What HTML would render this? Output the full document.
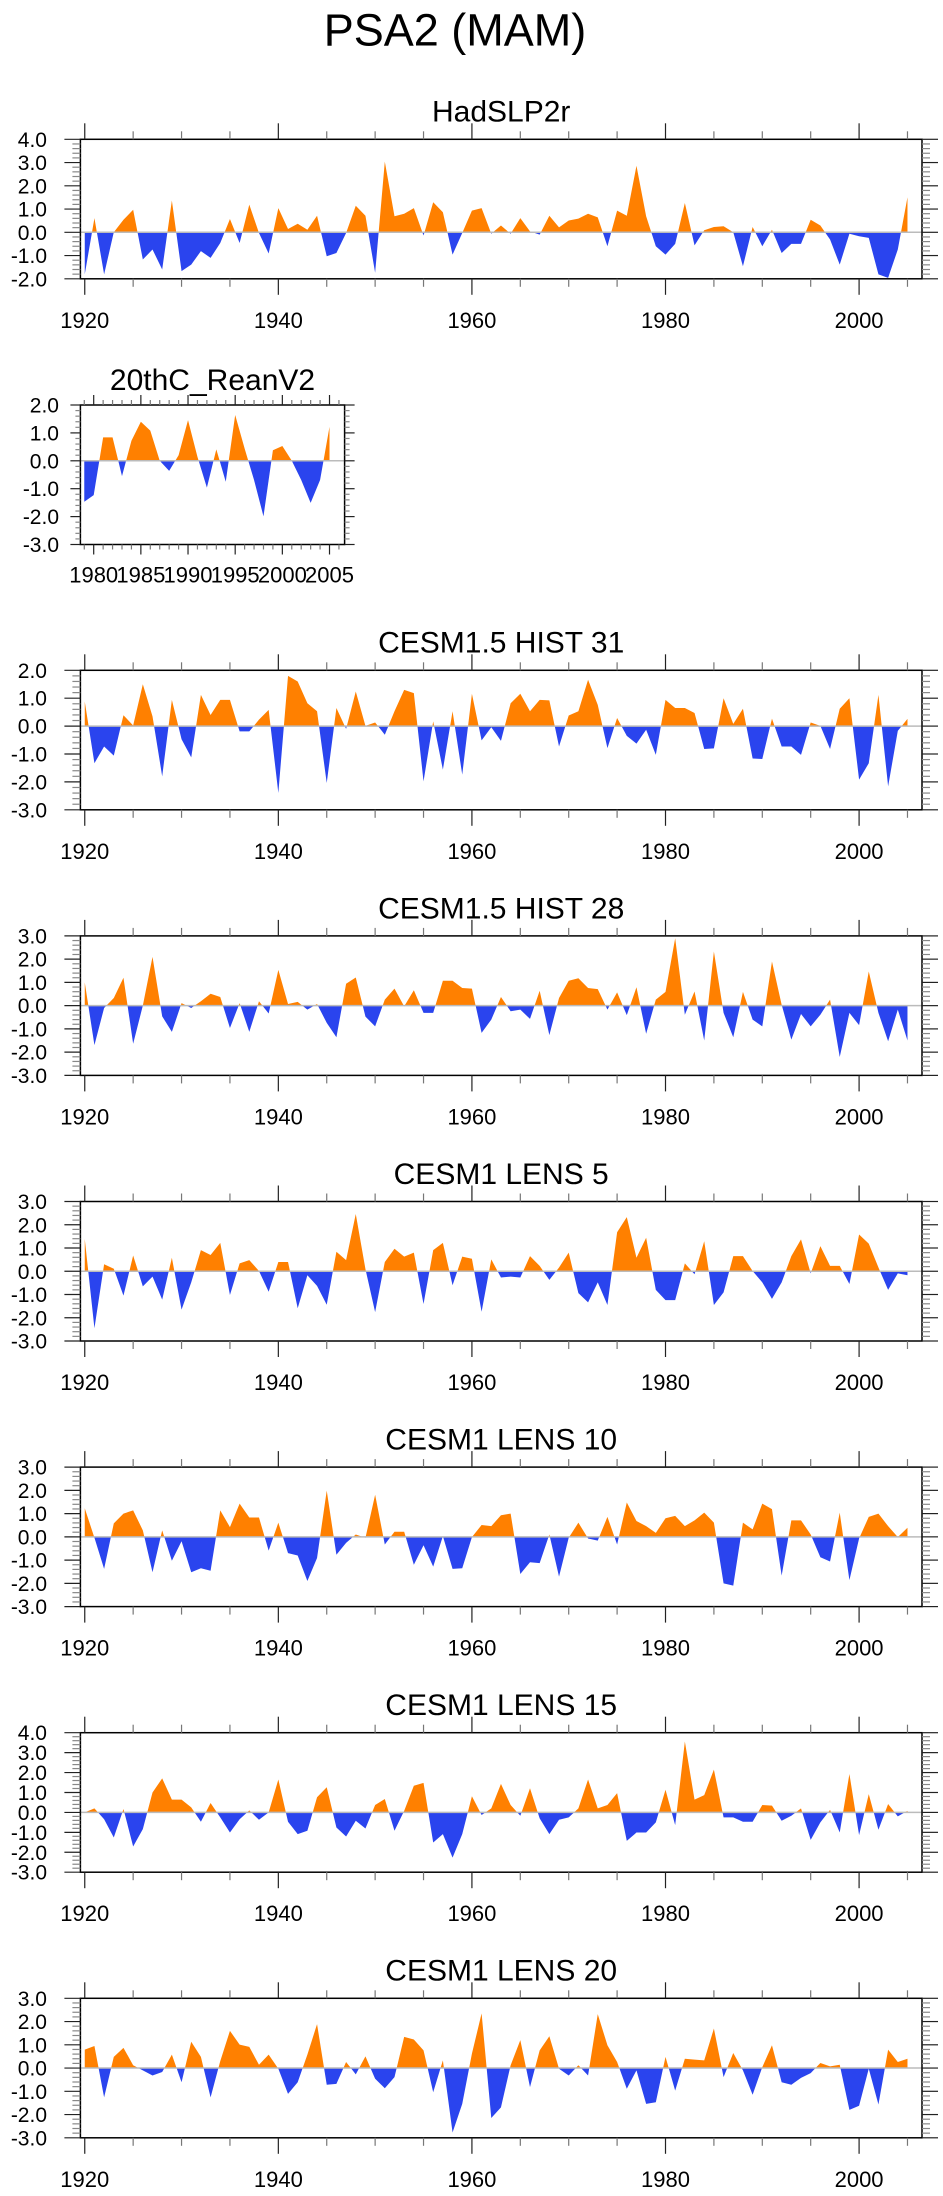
<!DOCTYPE html>
<html><head><meta charset="utf-8"><title>PSA2 (MAM)</title>
<style>
html,body{margin:0;padding:0;background:#fff;}
svg{display:block;font-family:"Liberation Sans",Arial,sans-serif;}
</style></head>
<body>
<svg id="fig" width="943" height="2196" viewBox="0 0 943 2196" xmlns="http://www.w3.org/2000/svg">
<text x="455" y="45.7" font-size="45" text-anchor="middle" fill="#000">PSA2 (MAM)</text>
</svg>
<script>
const titles = ["HadSLP2r","20thC_ReanV2","CESM1.5 HIST 31","CESM1.5 HIST 28","CESM1 LENS 5","CESM1 LENS 10","CESM1 LENS 15","CESM1 LENS 20"];
const startYears = [1920,1979,1920,1920,1920,1920,1920,1920];
const yMins = [-2,-3,-3,-3,-3,-3,-3,-3];
const yMaxs = [4,2,2,3,3,3,4,3];
const hadslp2r = [-1.81,0.61,-1.81,0,0.54,0.97,-1.17,-0.74,-1.6,1.37,-1.67,-1.39,-0.81,-1.1,-0.46,0.57,-0.46,1.19,-0.03,-0.91,1.04,0.14,0.37,0.11,0.71,-1.03,-0.89,-0.03,1.14,0.71,-1.74,3.04,0.69,0.8,1.04,-0.14,1.29,0.86,-0.96,-0.03,0.93,1.04,-0.06,0.29,-0.06,0.61,0.04,-0.1,0.71,0.21,0.51,0.59,0.8,0.64,-0.6,0.93,0.71,2.86,0.69,-0.6,-0.96,-0.5,1.26,-0.56,0.09,0.23,0.26,0,-1.46,0.23,-0.6,0.11,-0.89,-0.5,-0.5,0.54,0.29,-0.31,-1.39,-0.06,-0.17,-0.24,-1.81,-1.96,-0.74,1.51];
const reanV2 = [-1.47,-1.23,0.84,0.84,-0.55,0.72,1.4,1.08,0,-0.36,0.2,1.46,0.14,-0.96,0.41,-0.75,1.64,0.44,-0.69,-1.99,0.38,0.53,0,-0.69,-1.51,-0.69,1.22];
const hist31 = [0.88,-1.33,-0.73,-1.06,0.39,0.02,1.5,0.35,-1.8,0.94,-0.47,-1.12,1.12,0.4,0.94,0.94,-0.19,-0.19,0.23,0.58,-2.4,1.8,1.6,0.82,0.53,-2.04,0.65,-0.1,1.24,0.01,0.13,-0.31,0.53,1.3,1.18,-1.98,0.17,-1.56,0.53,-1.74,1.16,-0.51,-0.04,-0.53,0.82,1.16,0.53,0.94,0.92,-0.73,0.38,0.53,1.66,0.76,-0.79,0.29,-0.35,-0.63,-0.13,-1.03,0.94,0.65,0.65,0.47,-0.82,-0.8,1.0,0.08,0.62,-1.16,-1.18,0.27,-0.73,-0.73,-1.03,0.13,0.01,-0.82,0.62,1.0,-1.92,-1.33,1.12,-2.16,-0.17,0.26];
const hist28 = [1.0,-1.7,-0.1,0.33,1.2,-1.64,0,2.1,-0.46,-1.13,0.11,-0.1,0.19,0.51,0.37,-0.96,0.11,-1.13,0.19,-0.34,1.54,0.07,0.16,-0.17,0.07,-0.74,-1.36,0.94,1.21,-0.47,-0.89,0.26,0.73,-0.03,0.66,-0.31,-0.31,1.07,1.07,0.76,0.73,-1.17,-0.6,0.37,-0.24,-0.17,-0.57,0.64,-1.27,0.33,1.07,1.18,0.76,0.71,-0.17,0.57,-0.41,0.79,-1.21,0.26,0.59,2.9,-0.39,0.61,-1.5,2.33,-0.31,-1.36,0.59,-0.6,-0.89,1.9,0.04,-1.46,-0.36,-0.89,-0.39,0.26,-2.21,-0.31,-0.84,1.47,-0.31,-1.53,-0.17,-1.5];
const lens5 = [1.39,-2.45,0.3,0.11,-1.05,0.68,-0.65,-0.23,-1.22,0.58,-1.65,-0.48,0.91,0.7,1.22,-1.02,0.34,0.48,0.01,-0.88,0.4,0.4,-1.59,-0.17,-0.63,-1.44,0.84,0.48,2.46,0.09,-1.76,0.4,0.97,0.63,0.8,-1.41,0.91,1.22,-0.6,0.63,0.54,-1.74,0.51,-0.27,-0.23,-0.27,0.65,0.23,-0.37,0.16,0.8,-0.94,-1.34,-0.48,-1.45,1.68,2.33,0.58,1.44,-0.8,-1.24,-1.24,0.34,-0.13,1.29,-1.45,-0.91,0.65,0.65,0.01,-0.48,-1.19,-0.48,0.65,1.37,-0.09,1.08,0.23,0.23,-0.55,1.58,1.19,0.16,-0.8,-0.09,-0.17];
const lens10 = [1.23,-0.04,-1.38,0.58,1.0,1.14,0.28,-1.52,0.28,-1.03,-0.19,-1.52,-1.35,-1.46,1.14,0.42,1.43,0.83,0.83,-0.59,0.61,-0.7,-0.8,-1.9,-0.91,1.99,-0.77,-0.26,0.1,-0.04,1.81,-0.33,0.22,0.22,-1.2,-0.36,-1.28,0.03,-1.38,-1.35,-0.01,0.51,0.46,0.93,1.0,-1.6,-1.09,-1.13,0.1,-1.71,-0.04,0.61,-0.07,-0.16,0.86,-0.33,1.48,0.68,0.46,0.17,0.8,0.9,0.46,0.71,1.04,0.61,-2.0,-2.1,0.61,0.32,1.43,1.19,-1.67,0.71,0.71,0.1,-0.88,-1.06,1.04,-1.86,-0.07,0.86,1.0,0.46,-0.01,0.39];
const lens15 = [0,0.2,-0.34,-1.26,0.17,-1.71,-0.84,1.0,1.71,0.64,0.64,0.25,-0.47,0.47,-0.25,-1.01,-0.34,0.1,-0.37,0,1.65,-0.47,-1.09,-0.92,0.76,1.26,-0.76,-1.21,-0.42,-0.81,0.37,0.67,-0.92,0.08,1.34,1.48,-1.51,-1.09,-2.27,-1.09,0.81,-0.13,0.2,1.43,0.37,-0.17,1.21,-0.3,-1.09,-0.37,-0.25,0.2,1.65,0.2,0.37,0.97,-1.43,-1.01,-1.01,-0.5,1.14,-0.64,3.56,0.64,0.87,2.15,-0.25,-0.25,-0.47,-0.47,0.37,0.34,-0.42,-0.17,0.2,-1.38,-0.5,0.13,-1.01,1.93,-1.14,0.92,-0.87,0.42,-0.2,0.08];
const lens20 = [0.79,0.95,-1.26,0.48,0.87,0.12,-0.1,-0.32,-0.17,0.58,-0.61,1.13,0.48,-1.26,0.3,1.6,1.01,0.91,0.14,0.58,-0.03,-1.11,-0.61,0.58,1.89,-0.72,-0.68,0.26,-0.27,0.5,-0.46,-0.87,-0.39,1.34,1.23,0.76,-1.04,0.33,-2.77,-1.54,0.62,2.35,-2.15,-1.69,0.12,1.2,-0.82,0.76,1.37,-0.03,-0.32,0.12,-0.32,2.32,0.98,0.26,-0.89,-0.1,-1.54,-1.47,0.48,-0.97,0.4,0.36,0.33,1.7,-0.39,0.65,-0.1,-1.15,0.04,0.98,-0.61,-0.72,-0.42,-0.22,0.22,0.07,0.14,-1.8,-1.62,-0.03,-1.57,0.79,0.26,0.4];
const seriesList = [hadslp2r,reanV2,hist31,hist28,lens5,lens10,lens15,lens20];
const mainXTickLabels = ["1920","1940","1960","1980","2000"];
const reanXTickLabels = ["1980","1985","1990","1995","2000","2005"];

const NS = "http://www.w3.org/2000/svg";
const svg = document.getElementById("fig");
function mk(tag, attrs, parent){ const e=document.createElementNS(NS,tag); for(const k in attrs) e.setAttribute(k,attrs[k]); (parent||svg).appendChild(e); return e; }
const tops = [139.3,405,670.3,935.9,1201.5,1467.1,1732.7,1998.3];
const PH = 139.5;

for(let p=0;p<8;p++){
  const small = (p===1);
  const L = 80.4, R = small ? 344.6 : 922;
  const T = tops[p], B = T+PH;
  const x0 = small ? 1978.59 : 1919.55, x1 = small ? 2006.6 : 2006.5;
  const ymin=yMins[p], ymax=yMaxs[p];
  const xs = v => L + (v-x0)/(x1-x0)*(R-L);
  const ys = v => B - (v-ymin)/(ymax-ymin)*PH;
  const g = mk("g",{});
  
  
  // title
  const t = mk("text",{x:(L+R)/2,y: small ? T-15 : T-17.6,"font-size":30,"text-anchor":"middle",fill:"#000"},g);
  
  
  t.textContent = titles[p];
  // clip paths
  const cid = "c"+p;
  const defs = mk("defs",{},g);
  const cpA = mk("clipPath",{id:cid+"a"},defs); mk("rect",{x:L,y:T,width:R-L,height:ys(0)-T},cpA);
  const cpB = mk("clipPath",{id:cid+"b"},defs); mk("rect",{x:L,y:ys(0),width:R-L,height:B-ys(0)},cpB);
  const data = seriesList[p], sy = startYears[p];
  let d = "M"+xs(sy).toFixed(2)+","+ys(0).toFixed(2);
  for(let i=0;i<data.length;i++) d += " L"+xs(sy+i).toFixed(2)+","+ys(data[i]).toFixed(2);
  d += " L"+xs(sy+data.length-1).toFixed(2)+","+ys(0).toFixed(2)+" Z";
  const pos = mk("path",{d:d,fill:"#ff8000","clip-path":"url(#"+cid+"a)"},g);
  
  
  const neg = mk("path",{d:d,fill:"#2a44ee","clip-path":"url(#"+cid+"b)"},g);
  
  
  const zl = mk("line",{x1:L,x2:R,y1:ys(0),y2:ys(0),stroke:"#bbb","stroke-width":1.5},g);
  
  
  // frame
  const fr = mk("rect",{x:L,y:T,width:R-L,height:PH,fill:"none",stroke:"#000","stroke-width":1.5},g);
  
  
  // x ticks
  const maj = small?5:20, minr = small?1:5;
  const majLen = small?10:16, minLen = small?5:8;
  const xStart = small?1979:1920, xEnd = small?2006:2005;
  for(let yr=xStart; yr<=xEnd; yr+=minr){
    const isMaj = (yr%maj===0);
    const len = isMaj?majLen:minLen, xx=xs(yr);
    mk("line",{x1:xx,x2:xx,y1:T,y2:T-len,stroke:isMaj?"#222":"#777","stroke-width":1.2},g);
    mk("line",{x1:xx,x2:xx,y1:B,y2:B+len,stroke:isMaj?"#222":"#777","stroke-width":1.2},g);
  }
  const labs = small?reanXTickLabels:mainXTickLabels;
  for(const lb of labs){
    const tx = mk("text",{x:xs(+lb),y: small?B+38:B+49,"font-size":22,"text-anchor":"middle",fill:"#000"},g);
    
    
    tx.textContent = lb;
  }
  // y ticks
  for(let k=Math.round(ymin*5); k<=Math.round(ymax*5); k++){
    const v=k/5, yy=ys(v), isMaj=(k%5===0);
    const len=isMaj?majLen:minLen;
    mk("line",{x1:L,x2:L-len,y1:yy,y2:yy,stroke:isMaj?"#222":"#888","stroke-width":1.2},g);
    mk("line",{x1:R,x2:R+len,y1:yy,y2:yy,stroke:isMaj?"#222":"#888","stroke-width":1.2},g);
    if(isMaj){
      const ty = mk("text",{x: small?59:47,y:yy+7.5,"font-size":21,"text-anchor":"end",fill:"#000"},g);
      
      
      ty.textContent = v.toFixed(1);
    }
  }
}
</script>
</body></html>
